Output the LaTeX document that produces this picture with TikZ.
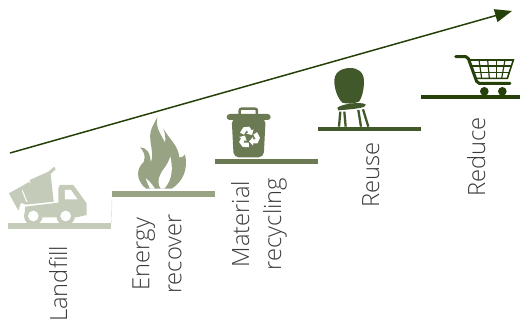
\documentclass[tikz,border=0pt]{standalone}
\usepackage{fontspec}
\setmainfont{Open Sans Light}
\usetikzlibrary{arrows.meta,positioning,calc}
\definecolor{shadeA}{HTML}{C4CBB9}
\definecolor{shadeB}{HTML}{98A383}
\definecolor{shadeC}{HTML}{6C7A53}
\definecolor{shadeD}{HTML}{41582A}
\definecolor{shadeE}{HTML}{254009}
\definecolor{labelgray}{HTML}{3A3A3A}

\begin{document}
\begin{tikzpicture}[x=1pt,y=-1pt,>=Stealth,
  bar/.style={inner sep=0pt, minimum width=103pt, anchor=north west},
  steplabel/.style={rotate=90, align=center, text=labelgray, inner sep=0pt,
    font=\fontsize{23.7}{32}\selectfont},
  zoomed/.style={x=0.3333pt,y=-0.3333pt}]
\useasboundingbox (0,0) rectangle (520,323);

% Bars
\node[bar, fill=shadeA, minimum height=6pt] (landfill) at (8,223) {};
\node[bar, fill=shadeB, minimum height=6pt] (energy) at (112,191) {};
\node[bar, fill=shadeC, minimum height=5pt] (material) at (215,159) {};
\node[bar, fill=shadeD, minimum height=4pt] (reuse) at (318,127) {};
\node[bar, fill=shadeE, minimum height=4pt, minimum width=99pt] (reduce) at (421,95) {};
\draw[black!15, thin] (landfill.north east) -- (energy.south west);

% Labels
\node[steplabel, anchor=base west] (landfilltext) at (67,322) {Landfill};
\node[steplabel] (energytext) at (157,254) {Energy\\recover};
\node[steplabel] (materialtext) at (259,224) {Material\\recycling};
\node[steplabel, anchor=base west] (reusetext) at (379,208) {Reuse};
\node[steplabel, anchor=base west] (reducetext) at (485,197) {Reduce};

% Arrow
\coordinate (start) at (10,153);
\coordinate (tip) at (512,11);
\draw[-{Triangle[length=17pt,width=13pt]}, shadeE, line width=1.5pt] (start) -- (tip);

% Truck
\begin{scope}[shift={(5,160)},zoomed]
\fill[shadeA] (12,100) -- (72,66) -- (78,75) -- (74,60) -- (130,35) -- (148,20) -- (152,28)
  -- (137,42) -- (146,125) -- (62,134) -- (48,128) -- (40,152) -- cycle;
\fill[shadeA] (160,85) -- (165,75) -- (205,75) -- (245,130) -- (245,165) -- (215,172)
  -- (150,172) -- (120,172) -- (60,172) -- (60,140) -- (160,128) -- cycle;
\fill[shadeA] (85,168) circle (28);
\fill[shadeA] (182,168) circle (28);
\fill[white] (85,168) circle (16);
\fill[white] (182,168) circle (16);
\fill[white] (180,90) -- (198,90) -- (218,118) -- (180,118) -- cycle;
\draw[white, line width=1pt] (52,92) -- (66,126);
\end{scope}

% Flame
\begin{scope}[shift={(130,110)},zoomed]
\fill[shadeB] (48,236) .. controls (22,215) and (18,185) .. (33,165)
  .. controls (48,155) and (48,130) .. (30,112)
  .. controls (50,112) and (62,130) .. (62,158)
  .. controls (75,130) and (55,95) .. (62,65)
  .. controls (66,50) and (75,35) .. (82,22)
  .. controls (75,55) and (95,75) .. (105,98)
  .. controls (108,85) and (105,70) .. (100,55)
  .. controls (115,85) and (145,105) .. (148,142)
  .. controls (155,145) and (160,140) .. (165,133)
  .. controls (175,175) and (160,215) .. (125,236) -- cycle;
\fill[white] (92,236) .. controls (78,215) and (90,190) .. (105,172)
  .. controls (112,162) and (117,152) .. (121,140)
  .. controls (128,170) and (130,205) .. (103,236) -- cycle;
\fill[white] (47,205) .. controls (58,212) and (65,222) .. (75,236)
  -- (60,236) .. controls (55,225) and (50,215) .. (47,205) -- cycle;
\end{scope}

% Bin
\begin{scope}[shift={(220,100)},zoomed]
\draw[shadeC, line width=2.5pt, rounded corners=2pt] (59,44) -- (59,26) -- (111,26) -- (111,44);
\fill[shadeC, rounded corners=3pt] (20,42) rectangle (152,60);
\fill[shadeC, rounded corners=5pt] (35,55) -- (137,55) -- (131,172) -- (41,172) -- cycle;
\foreach \a in {0,120,240} {
  \fill[white, rotate around={\a:(86,112)}] (60,98) -- (70,82) -- (88,80) -- (95,91) -- (101,88)
    -- (96,105) -- (79,101) -- (85,97) -- (80,91) -- (72,104) -- cycle;
}
\end{scope}

% Chair
\begin{scope}[shift={(325,60)},zoomed]
\fill[shadeD] (28,60) .. controls (30,30) and (60,24) .. (75,24)
  .. controls (98,24) and (117,35) .. (117,65)
  .. controls (117,90) and (110,115) .. (102,125)
  .. controls (85,132) and (65,132) .. (52,128)
  .. controls (38,115) and (27,85) .. (28,60) -- cycle;
\fill[shadeD] (37,143) .. controls (50,132) and (105,124) .. (122,133)
  .. controls (125,142) and (105,146) .. (40,151) -- cycle;
\draw[shadeD, line width=2.3pt] (46,155) -- (42,200);
\draw[shadeD, line width=2.3pt] (58,155) -- (62,200);
\draw[shadeD, line width=2.3pt] (100,150) -- (108,200);
\draw[shadeD, line width=2.3pt] (114,148) -- (130,200);
\end{scope}

% Cart
\begin{scope}[shift={(445,50)},zoomed]
\draw[shadeE, line width=3pt, line cap=round, rounded corners=2pt] (32,20) -- (68,20) -- (97,100) -- (195,100);
\draw[shadeE, line width=1.6pt] (74,30) -- (205,30) -- (187,85) -- (90,85);
\draw[shadeE, line width=1.2pt] (80,48) -- (199,48) (85,67) -- (193,67);
\foreach \xa/\xb in {102/110,128/133,155/155,180/170} {
  \draw[shadeE, line width=1.2pt] (\xa,30) -- (\xb,85);
}
\fill[shadeE] (118,124) circle (13);
\fill[shadeE] (172,124) circle (13);
\end{scope}

\end{tikzpicture}
\end{document}
